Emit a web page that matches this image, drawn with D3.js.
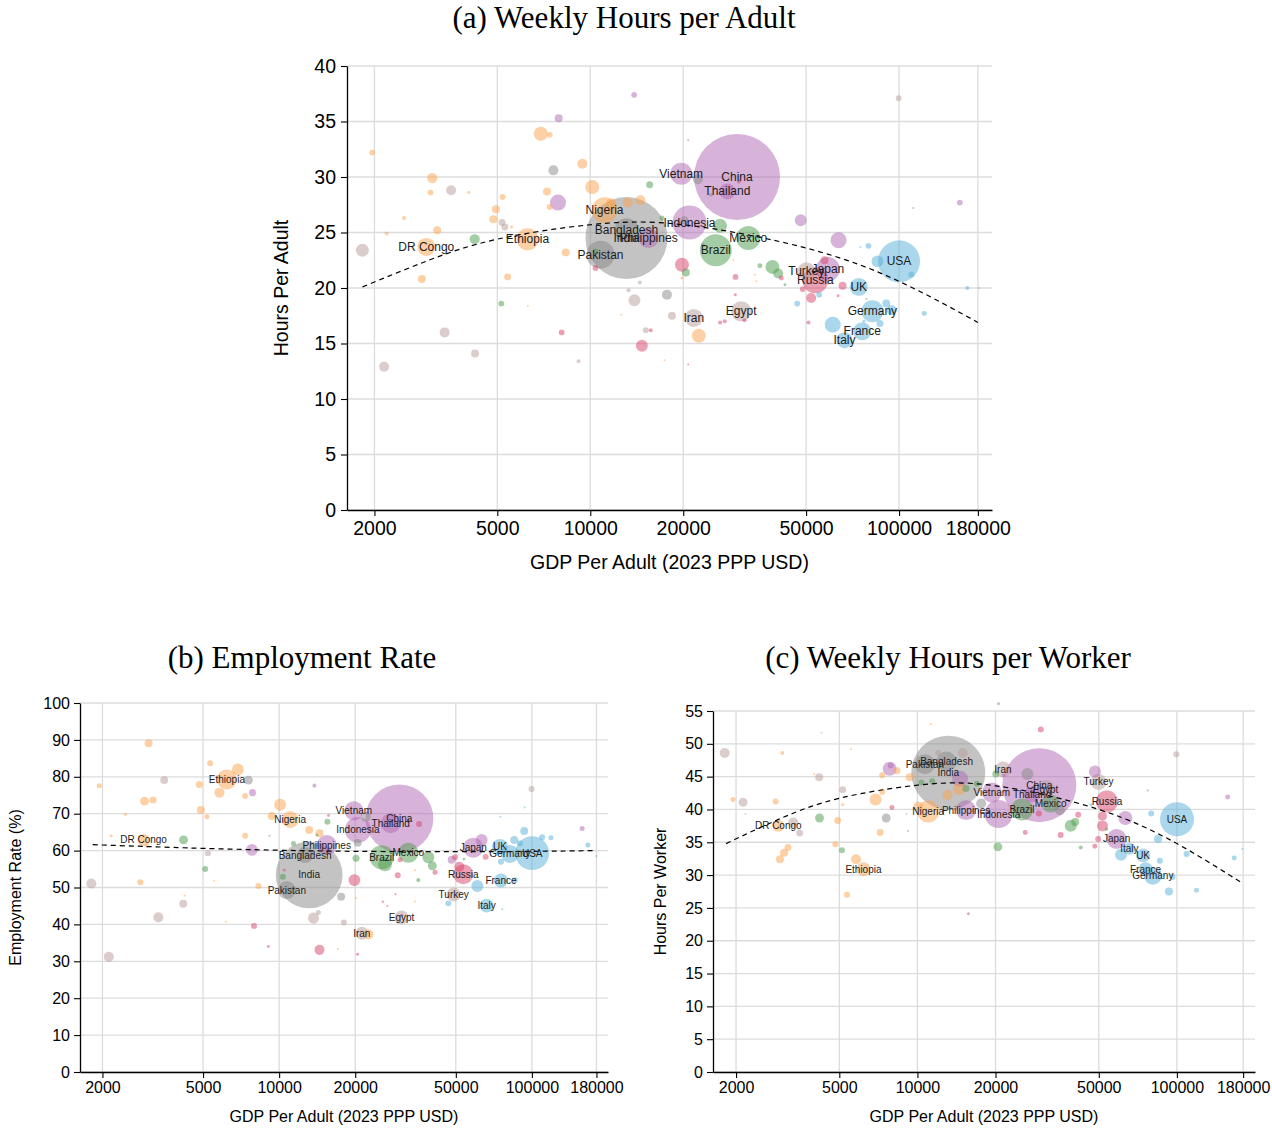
<!DOCTYPE html>
<html>
<head>
<meta charset="utf-8">
<script src="https://cdn.jsdelivr.net/npm/d3@7"></script>
<style>
  body { margin: 0; background: #fff; }
  svg text { font-family: "Liberation Sans", Arial, sans-serif; }
</style>
</head>
<body>
<svg id="fig" width="1272" height="1128"></svg>
<script>
// Region fill colours (drawn at half opacity)
const regionColor = {
  AF: "#fba14b", // Sub-Saharan Africa
  EA: "#af65b3", // East Asia & Pacific
  SA: "#878787", // South Asia
  LA: "#4b9b4b", // Latin America
  EU: "#d74169", // Eastern Europe & Central Asia
  WE: "#55afd7", // Western Europe & offshoots
  ME: "#b99b9b"  // Middle East & North Africa
};

const gdpTicks = [2000, 5000, 10000, 20000, 50000, 100000, 180000];
const gdpDomain = [1630, 200000];

// [GDP per adult, value, adult population (m), region, label]
const hoursPerAdult = [
  [1966, 32.2, 5, "AF"], [3077, 29.9, 15, "AF"], [3038, 28.6, 5, "AF"], [2494, 26.3, 2.4, "AF"],
  [2191, 24.9, 2.4, "AF"], [3194, 25.2, 9.5, "AF"], [2943, 23.7, 48, "AF", "DR Congo"],
  [2850, 20.8, 9.5, "AF"], [4041, 28.6, 1.3, "AF"], [5202, 28.2, 5, "AF"], [4950, 27.1, 9.5, "AF"],
  [4852, 26.2, 9.5, "AF"], [5561, 25.5, 1.3, "AF"], [6264, 24.4, 72, "AF", "Ethiopia"],
  [5398, 21.0, 7, "AF"], [6278, 18.4, 0.6, "AF"], [6915, 33.9, 29, "AF"], [7391, 33.8, 5, "AF"],
  [9424, 31.2, 15, "AF"], [7244, 28.7, 9.5, "AF"], [10150, 29.1, 29, "AF"], [7391, 27.3, 5, "AF"],
  [8325, 23.2, 9.5, "AF"], [11122, 27.0, 100, "AF", "Nigeria"], [11690, 27.6, 15, "AF"],
  [13223, 27.7, 15, "AF"], [14530, 27.9, 15, "AF"], [19808, 20.9, 1.3, "AF"], [29060, 22.5, 0.6, "AF"],
  [34100, 21.2, 0.6, "AF"], [34500, 20.6, 0.6, "AF"], [22470, 15.7, 29, "AF"], [12600, 17.6, 0.6, "AF"],
  [17400, 13.5, 0.6, "AF"],
  [1828, 23.4, 25, "ME"], [3543, 28.8, 15, "ME"], [5180, 25.9, 7, "ME"], [5291, 25.5, 7, "ME"],
  [3377, 16.0, 15, "ME"], [4235, 14.1, 9.5, "ME"], [2149, 12.9, 15, "ME"], [14475, 20.5, 2.4, "ME"],
  [13300, 19.8, 2.4, "ME"], [13900, 18.9, 21, "ME"], [18389, 17.5, 9.5, "ME"],
  [21637, 17.3, 48, "ME", "Iran"], [30818, 17.9, 60, "ME", "Egypt"], [50120, 21.5, 48, "ME", "Turkey"],
  [99700, 37.1, 5, "ME"], [15125, 16.2, 5, "ME"], [9167, 13.4, 2.4, "ME"],
  [7597, 30.6, 15, "SA"], [13096, 24.5, 1000, "SA", "India"], [13100, 25.2, 86, "SA", "Bangladesh"],
  [10796, 23.0, 117, "SA", "Pakistan"], [17716, 19.4, 15, "SA"], [22305, 29.8, 15, "SA"],
  [20148, 26.1, 9.5, "SA"], [23148, 23.9, 2.4, "SA"], [24570, 28.4, 2.4, "SA"],
  [13870, 37.4, 5, "EA"], [7901, 35.3, 9.5, "EA"], [7861, 27.7, 38, "EA"],
  [15453, 24.5, 60, "EA", "Philippines"], [19704, 30.3, 72, "EA", "Vietnam"],
  [29875, 30.0, 1100, "EA", "China"], [27794, 28.7, 38, "EA", "Thailand"],
  [20957, 25.9, 172, "EA", "Indonesia"], [20755, 33.3, 0.6, "EA"], [48040, 26.1, 21, "EA"],
  [63700, 24.3, 38, "EA"], [58840, 21.7, 86, "EA", "Japan"], [157300, 27.7, 5, "EA"],
  [111200, 27.2, 0.6, "EA"],
  [4225, 24.4, 15, "LA"], [5150, 18.6, 5, "LA"], [15570, 29.3, 7.3, "LA"], [17078, 26.3, 3.7, "LA"],
  [20404, 21.4, 9.5, "LA"], [26330, 25.6, 29, "LA"], [25500, 23.4, 152, "LA", "Brazil"],
  [32490, 24.5, 86, "LA", "Mexico"], [35430, 22.0, 3.7, "LA"], [38900, 21.9, 29, "LA"],
  [40600, 21.3, 15, "LA"], [42700, 20.3, 1.3, "LA"], [78430, 19.0, 0.6, "LA"], [10400, 23.3, 5, "LA"],
  [10400, 21.8, 5, "EU"], [19808, 22.1, 29, "EU"], [29540, 21.0, 5, "EU"], [41560, 20.9, 3.7, "EU"],
  [14694, 14.8, 21, "EU"], [15696, 16.2, 2.4, "EU"], [8079, 16.0, 5, "EU"], [20755, 13.1, 0.6, "EU"],
  [26330, 16.9, 2.4, "EU"], [27262, 17.0, 2.4, "EU"], [31610, 17.1, 2.4, "EU"], [29500, 19.4, 1.3, "EU"],
  [53580, 20.7, 100, "EU", "Russia"], [57410, 22.5, 9.5, "EU"], [48760, 19.9, 5, "EU"],
  [51930, 19.1, 15, "EU"], [50900, 16.9, 2.4, "EU"], [65620, 20.2, 9.5, "EU"], [63470, 19.3, 1.3, "EU"],
  [30300, 29.6, 2.4, "EU"],
  [100000, 22.4, 262, "WE", "USA"], [85110, 22.4, 21, "WE"], [79610, 23.8, 5, "WE"],
  [75000, 23.7, 0.6, "WE"], [109600, 21.2, 5, "WE"], [74070, 20.1, 48, "WE", "UK"],
  [166400, 20.0, 2.4, "WE"], [181600, 20.0, 0.6, "WE"], [55110, 19.4, 5, "WE"], [46800, 18.6, 5, "WE"],
  [82000, 17.9, 72, "WE", "Germany"], [90930, 18.6, 9.5, "WE"], [94710, 18.0, 15, "WE"],
  [86770, 16.8, 7.3, "WE"], [120700, 17.7, 3.7, "WE"], [61000, 16.7, 38, "WE"],
  [76000, 16.1, 48, "WE", "France"], [66600, 15.3, 38, "WE", "Italy"], [76990, 17.0, 1.3, "WE"]
];

const employmentRate = [
  [3044, 89.1, 15, "AF"], [1943, 77.6, 6, "AF"], [2935, 73.4, 19, "AF"], [3170, 73.7, 12, "AF"],
  [2462, 69.8, 2, "AF"], [2168, 64.0, 2, "AF"], [2908, 62.9, 34, "AF", "DR Congo"], [3000, 61.3, 4, "AF"],
  [4903, 71.0, 15, "AF"], [5178, 69.2, 6, "AF"], [5337, 83.7, 8.5, "AF"], [4829, 77.9, 12, "AF"],
  [6868, 82.0, 34, "AF"], [6214, 79.3, 95, "AF", "Ethiopia"], [5808, 75.7, 24, "AF"],
  [7337, 74.8, 8.5, "AF"], [5534, 51.8, 1, "AF"], [2822, 51.4, 8.5, "AF"], [7337, 64.0, 8.5, "AF"],
  [10090, 72.4, 34, "AF"], [9354, 69.4, 15, "AF"], [11053, 68.4, 68, "AF", "Nigeria"],
  [13145, 65.6, 15, "AF"], [14440, 64.7, 15, "AF"], [8282, 50.4, 8.5, "AF"], [22540, 37.3, 24, "AF"],
  [4229, 47.8, 1, "AF"], [6156, 40.7, 1, "AF"], [17050, 33.3, 1, "AF"], [34470, 54.7, 1, "AF"],
  [34470, 46.2, 1, "AF"], [20150, 47.1, 1, "AF"], [25880, 46.0, 1, "AF"],
  [7560, 79.1, 19, "SA"], [13145, 53.4, 1060, "SA", "India"], [12670, 58.8, 61, "SA", "Bangladesh"],
  [10725, 49.3, 77, "SA", "Pakistan"], [20460, 62.1, 15, "SA"], [22000, 69.2, 24, "SA"],
  [17590, 47.5, 15, "SA"],
  [7845, 75.7, 12, "EA"], [7803, 60.2, 34, "EA"], [13795, 77.6, 4, "EA"], [9150, 64.0, 1, "EA"],
  [19750, 70.8, 86, "EA", "Vietnam"], [20500, 65.6, 160, "EA", "Indonesia"],
  [15430, 61.5, 95, "EA", "Philippines"], [29900, 68.7, 1100, "EA", "China"],
  [27640, 67.4, 95, "EA", "Thailand"], [58610, 60.8, 95, "EA", "Japan"], [63270, 62.9, 34, "EA"],
  [48150, 57.5, 15, "EA"], [158000, 66.0, 6, "EA"],
  [4185, 62.9, 19, "LA"], [5099, 55.0, 8.5, "LA"], [15520, 67.8, 8.5, "LA"], [14110, 64.2, 2, "LA"],
  [11390, 61.9, 6, "LA"], [10340, 52.9, 8.5, "LA"], [20150, 57.9, 12, "LA"],
  [25460, 58.2, 136, "LA", "Brazil"], [26240, 56.3, 46, "LA"], [32450, 59.4, 95, "LA", "Mexico"],
  [38920, 58.2, 34, "LA"], [40360, 55.9, 19, "LA"], [35530, 52.0, 4, "LA"], [53850, 57.7, 2, "LA"],
  [15670, 69.5, 2, "EU"], [10470, 54.7, 2, "EU"], [19850, 52.0, 34, "EU"], [35760, 67.2, 8.5, "EU"],
  [41370, 54.1, 6, "EU"], [30090, 57.5, 6, "EU"], [29460, 53.3, 8.5, "EU"], [28880, 48.2, 1, "EU"],
  [25680, 46.2, 1, "EU"], [26780, 45.0, 1, "EU"], [7953, 39.6, 8.5, "EU"], [9065, 34.0, 2, "EU"],
  [14440, 33.1, 24, "EU"], [20430, 31.9, 2, "EU"], [53520, 53.6, 95, "EU", "Russia"],
  [51600, 55.6, 24, "EU"], [65610, 58.3, 8.5, "EU"], [49650, 58.2, 8.5, "EU"], [30550, 42.5, 2, "EU"],
  [3511, 79.1, 15, "ME"], [5226, 59.3, 8.5, "ME"], [1807, 51.1, 24, "ME"], [4175, 45.6, 15, "ME"],
  [3327, 41.9, 24, "ME"], [2119, 31.2, 24, "ME"], [14300, 43.2, 6, "ME"], [13680, 41.7, 29, "ME"],
  [18040, 40.5, 8.5, "ME"], [30500, 41.9, 46, "ME", "Egypt"], [21240, 37.6, 40, "ME", "Iran"],
  [49050, 48.1, 46, "ME", "Turkey"], [99700, 76.7, 8.5, "ME"],
  [100300, 59.3, 273, "WE", "USA"], [74730, 61.0, 61, "WE", "UK"], [81850, 59.1, 77, "WE", "Germany"],
  [75420, 51.9, 46, "WE", "France"], [66200, 45.1, 46, "WE", "Italy"], [60800, 50.4, 34, "WE"],
  [85660, 52.0, 8.5, "WE"], [46700, 45.7, 8.5, "WE"], [93250, 65.3, 15, "WE"], [85120, 62.9, 15, "WE"],
  [89660, 62.0, 8.5, "WE"], [109800, 63.6, 8.5, "WE"], [118900, 63.5, 6, "WE"], [75420, 57.0, 8.5, "WE"],
  [166400, 61.5, 6, "WE"], [180000, 58.5, 1, "WE"], [76300, 44.1, 1, "WE"], [75000, 69.2, 1, "WE"],
  [93600, 71.7, 1, "WE"]
];

const hoursPerWorker = [
  [3016, 48.6, 3.2, "AF"], [4270, 51.7, 0.8, "AF"], [5550, 49.2, 0.8, "AF"], [4001, 45.4, 0.8, "AF"],
  [1947, 41.5, 5, "AF"], [2840, 41.2, 7.2, "AF"], [2173, 39.3, 0.8, "AF"], [2909, 37.5, 29, "AF", "DR Congo"],
  [3173, 34.2, 9.8, "AF"], [3062, 33.4, 13, "AF"], [2953, 32.4, 13, "AF"], [4827, 34.7, 7.2, "AF"],
  [4927, 38.3, 9.8, "AF"], [5153, 40.7, 1.8, "AF"], [5800, 32.4, 20, "AF"], [6196, 30.9, 39, "AF", "Ethiopia"],
  [5353, 27.0, 7.2, "AF"], [6898, 41.5, 29, "AF"], [7317, 42.7, 7.2, "AF"], [7187, 36.5, 9.8, "AF"],
  [7317, 45.2, 7.2, "AF"], [8343, 45.9, 9.8, "AF"], [9344, 44.9, 13, "AF"],
  [11004, 39.7, 97, "AF", "Nigeria"], [10070, 40.4, 20, "AF"], [14470, 43.1, 29, "AF"],
  [13070, 42.2, 20, "AF"], [11270, 53.0, 0.8, "AF"],
  [7582, 38.7, 16, "SA"], [10684, 46.9, 80, "SA", "Pakistan"], [12950, 47.3, 80, "SA", "Bangladesh"],
  [13150, 45.6, 1100, "SA", "India"], [17610, 40.9, 20, "SA"], [26530, 45.4, 29, "SA"], [35430, 39.9, 20, "SA"],
  [7816, 46.2, 39, "EA"], [7890, 46.7, 7.2, "EA"], [14600, 44.7, 51, "EA"],
  [15400, 39.9, 80, "EA", "Philippines"], [19360, 42.6, 80, "EA", "Vietnam"],
  [20550, 39.3, 157, "EA", "Indonesia"], [29500, 43.7, 1100, "EA", "China"],
  [27670, 42.3, 51, "EA", "Thailand"], [48310, 45.8, 29, "EA"], [58570, 35.5, 80, "EA", "Japan"],
  [63320, 38.7, 39, "EA"], [157000, 41.9, 5, "EA"], [20540, 56.1, 1.8, "EA"], [21450, 45.2, 3.2, "EA"],
  [9200, 36.7, 0.8, "EA"],
  [4194, 38.7, 16, "LA"], [5119, 33.8, 7.2, "LA"], [10360, 44.1, 7.2, "LA"], [11400, 44.3, 7.2, "LA"],
  [15400, 43.2, 9.8, "LA"], [16930, 43.9, 7.2, "LA"], [20420, 34.3, 16, "LA"], [20050, 45.4, 9.8, "LA"],
  [25310, 40.0, 97, "LA", "Brazil"], [32630, 40.9, 65, "LA", "Mexico"], [38980, 37.5, 29, "LA"],
  [40550, 38.1, 13, "LA"], [42600, 34.2, 3.2, "LA"], [53580, 37.0, 1.8, "LA"], [77200, 42.9, 0.8, "LA"],
  [7978, 40.3, 5, "EU"], [29900, 52.2, 7.2, "EU"], [29380, 39.4, 7.2, "EU"], [26050, 36.5, 5, "EU"],
  [35650, 36.1, 7.2, "EU"], [41660, 39.2, 7.2, "EU"], [53750, 41.2, 97, "EU", "Russia"],
  [51690, 39.0, 16, "EU"], [51690, 37.5, 24, "EU"], [49730, 35.5, 7.2, "EU"], [48290, 34.4, 5, "EU"],
  [15720, 24.1, 1.8, "EU"],
  [1808, 48.6, 20, "ME"], [4183, 44.9, 13, "ME"], [2128, 41.1, 16, "ME"], [3326, 38.0, 20, "ME"],
  [3518, 36.4, 9.8, "ME"], [5150, 43.0, 9.8, "ME"], [12020, 48.6, 7.2, "ME"], [14940, 48.6, 20, "ME"],
  [21360, 46.1, 51, "ME", "Iran"], [31190, 43.1, 65, "ME", "Egypt"], [49880, 44.2, 51, "ME", "Turkey"],
  [99500, 48.4, 7.2, "ME"], [9070, 39.3, 0.8, "ME"],
  [100100, 38.5, 232, "WE", "USA"], [79620, 39.4, 7.2, "WE"], [84600, 35.5, 13, "WE"],
  [65600, 34.0, 29, "WE", "Italy"], [60900, 33.1, 29, "WE"], [74090, 33.0, 39, "WE", "UK"],
  [86000, 32.2, 7.2, "WE"], [75700, 30.9, 39, "WE", "France"], [80780, 29.9, 65, "WE", "Germany"],
  [96150, 29.7, 7.2, "WE"], [93200, 27.5, 13, "WE"], [109000, 33.2, 7.2, "WE"], [119000, 27.7, 5, "WE"],
  [166300, 32.6, 5, "WE"], [178600, 34.0, 0.8, "WE"], [46600, 40.7, 1.8, "WE"]
];

// Quadratic-in-log fitted trends, sampled along GDP
const fitHoursPerAdult = [[1830, 20.1], [3000, 22.5], [5000, 24.4], [10000, 25.7], [20000, 25.7], [50000, 23.6], [100000, 20.6], [180000, 16.9]];
const fitEmploymentRate = [[1830, 61.6], [3000, 61.1], [5000, 60.6], [10000, 60.1], [20000, 59.8], [50000, 59.7], [100000, 59.8], [180000, 60.0]];
const fitHoursPerWorker = [[1830, 34.8], [3000, 38.7], [5000, 41.7], [10000, 43.7], [20000, 43.6], [50000, 40.0], [100000, 34.8], [180000, 28.7]];

const ticksAdult = d3.range(0, 41, 5);
const ticksEmployment = d3.range(0, 101, 10);
const ticksWorker = d3.range(0, 56, 5);

const svg = d3.select("#fig");

function drawPanel(cfg) {
  const { left, top, right, bottom } = cfg.box;
  const x = d3.scaleLog().domain(gdpDomain).range([left, right]);
  const y = d3.scaleLinear().domain([0, cfg.yMax]).range([bottom, top]);
  const r = d3.scaleSqrt().domain([0, 1100]).range([0, cfg.rMax]);
  const g = svg.append("g");

  // grid
  g.append("g").selectAll("line").data(cfg.yTicks).join("line")
    .attr("x1", left).attr("x2", right)
    .attr("y1", d => y(d)).attr("y2", d => y(d))
    .attr("stroke", "#dcdcdc").attr("stroke-width", 1.3);
  g.append("g").selectAll("line").data(gdpTicks).join("line")
    .attr("x1", d => x(d)).attr("x2", d => x(d))
    .attr("y1", top).attr("y2", bottom)
    .attr("stroke", "#dcdcdc").attr("stroke-width", 1.3);

  // bubbles, largest underneath
  const pts = cfg.data.slice().sort((a, b) => b[2] - a[2]);
  g.append("g").selectAll("circle").data(pts).join("circle")
    .attr("cx", d => x(d[0])).attr("cy", d => y(d[1])).attr("r", d => r(d[2]))
    .attr("fill", d => regionColor[d[3]]).attr("fill-opacity", 0.5);

  // fitted trend
  g.append("path").datum(cfg.fit)
    .attr("d", d3.line().x(d => x(d[0])).y(d => y(d[1])).curve(d3.curveNatural))
    .attr("fill", "none").attr("stroke", "#000").attr("stroke-width", 1.2)
    .attr("stroke-dasharray", "5,4");

  // country names
  g.append("g").selectAll("text").data(cfg.data.filter(d => d[4])).join("text")
    .attr("x", d => x(d[0])).attr("y", d => y(d[1]))
    .attr("text-anchor", "middle").attr("dominant-baseline", "central")
    .attr("font-size", cfg.labelSize).attr("fill", "#1c1c1c")
    .text(d => d[4]);

  // axes
  const xa = g.append("g").attr("transform", `translate(0,${bottom})`)
    .call(d3.axisBottom(x).tickValues(gdpTicks).tickFormat(d3.format("d"))
      .tickSize(6).tickSizeOuter(0).tickPadding(cfg.pad));
  const ya = g.append("g").attr("transform", `translate(${left},0)`)
    .call(d3.axisLeft(y).tickValues(cfg.yTicks).tickSize(6).tickSizeOuter(0).tickPadding(cfg.pad));
  [xa, ya].forEach(a => {
    a.selectAll("text").attr("font-size", cfg.fontSize).attr("fill", "#000")
      .attr("font-family", '"Liberation Sans", Arial, sans-serif');
    a.select(".domain").attr("stroke", "#000").attr("stroke-width", 1.3);
    a.selectAll(".tick line").attr("stroke", "#000").attr("stroke-width", 1.1);
  });

  // titles
  svg.append("text").attr("x", cfg.titleX).attr("y", cfg.titleY)
    .attr("text-anchor", "middle").attr("font-size", 31)
    .style("font-family", '"Liberation Serif", "Times New Roman", serif')
    .text(cfg.title);
  svg.append("text").attr("x", (left + right) / 2).attr("y", cfg.xLabelY)
    .attr("text-anchor", "middle").attr("font-size", cfg.fontSize)
    .text("GDP Per Adult (2023 PPP USD)");
  svg.append("text")
    .attr("transform", `translate(${cfg.yLabelX},${(top + bottom) / 2}) rotate(-90)`)
    .attr("text-anchor", "middle").attr("dominant-baseline", "central")
    .attr("font-size", cfg.fontSize)
    .text(cfg.yLabel);
}

drawPanel({
  title: "(a) Weekly Hours per Adult", titleX: 624, titleY: 28,
  data: hoursPerAdult, fit: fitHoursPerAdult,
  box: { left: 347, top: 66, right: 992, bottom: 510 },
  yMax: 40, yTicks: ticksAdult, rMax: 43,
  fontSize: 19.5, labelSize: 12, pad: 5,
  yLabel: "Hours Per Adult", yLabelX: 281, xLabelY: 569
});

drawPanel({
  title: "(b) Employment Rate", titleX: 302, titleY: 668,
  data: employmentRate, fit: fitEmploymentRate,
  box: { left: 80, top: 703, right: 608, bottom: 1072 },
  yMax: 100, yTicks: ticksEmployment, rMax: 34,
  fontSize: 16, labelSize: 10, pad: 4,
  yLabel: "Employment Rate (%)", yLabelX: 15, xLabelY: 1122
});

drawPanel({
  title: "(c) Weekly Hours per Worker", titleX: 948, titleY: 668,
  data: hoursPerWorker, fit: fitHoursPerWorker,
  box: { left: 713, top: 711, right: 1255, bottom: 1072 },
  yMax: 55, yTicks: ticksWorker, rMax: 37,
  fontSize: 16, labelSize: 10, pad: 4,
  yLabel: "Hours Per Worker", yLabelX: 660, xLabelY: 1122
});
</script>
</body>
</html>
